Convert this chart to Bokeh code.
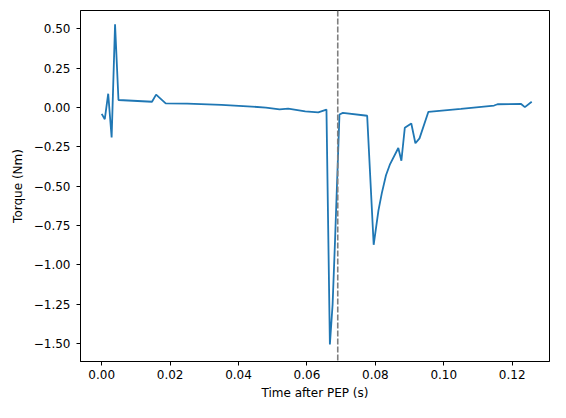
from bokeh.plotting import figure
from bokeh.models import Range1d, FixedTicker, CustomJSTickFormatter, Span
from bokeh.embed import file_html
from bokeh.resources import INLINE

# Data
time_s = [0.0, 0.0009, 0.0019, 0.0029, 0.0039, 0.0049, 0.0147, 0.0159, 0.0187,
          0.025, 0.035, 0.0426, 0.048, 0.052, 0.0545, 0.0595, 0.0633, 0.0657,
          0.0667, 0.0675, 0.0682, 0.0695, 0.0705, 0.0776, 0.0795, 0.0809,
          0.0819, 0.0831, 0.0843, 0.0867, 0.0876, 0.0886, 0.0905, 0.0917,
          0.0929, 0.0955, 0.105, 0.1147, 0.1157, 0.1226, 0.1237, 0.1257]
torque_nm = [-0.040, -0.074, 0.088, -0.190, 0.529, 0.048, 0.037, 0.082, 0.027,
             0.025, 0.017, 0.008, 0.000, -0.012, -0.007, -0.024, -0.030, -0.013,
             -1.506, -1.25, -0.85, -0.044, -0.034, -0.052, -0.872, -0.653,
             -0.542, -0.430, -0.359, -0.257, -0.338, -0.129, -0.101, -0.227,
             -0.196, -0.027, -0.008, 0.013, 0.021, 0.023, 0.003, 0.037]
marker_time = 0.069
x_ticks = [0.0, 0.02, 0.04, 0.06, 0.08, 0.10, 0.12]
y_ticks = [-1.5, -1.25, -1.0, -0.75, -0.5, -0.25, 0.0, 0.25, 0.5]
x_label = "Time after PEP (s)"
y_label = "Torque (Nm)"

FONT = "DejaVu Sans"

p = figure(width=550, height=402, output_backend="svg", toolbar_location=None,
           x_range=Range1d(-0.0062, 0.1309), y_range=Range1d(-1.614, 0.617),
           min_border_left=80, min_border_right=1, min_border_top=10,
           min_border_bottom=10)
p.background_fill_color = "white"
p.border_fill_color = "white"
p.outline_line_color = "black"
p.outline_line_width = 1
p.xgrid.visible = False
p.ygrid.visible = False

p.line(time_s, torque_nm, line_color="#1f77b4", line_width=1.8)
p.add_layout(Span(location=marker_time, dimension="height",
                  line_color="#7f7f7f", line_width=1.6, line_dash="6 2"))

for ax, ticks in ((p.xaxis[0], x_ticks), (p.yaxis[0], y_ticks)):
    ax.ticker = FixedTicker(ticks=ticks)
    ax.formatter = CustomJSTickFormatter(
        code="return tick.toFixed(2).replace('-', '\u2212');")
    ax.minor_tick_line_color = None
    ax.major_tick_in = 0
    ax.major_tick_out = 4
    ax.major_tick_line_color = "black"
    ax.axis_line_color = "black"
    ax.major_label_text_font = FONT
    ax.major_label_text_font_size = "12px"
    ax.major_label_text_color = "black"
    ax.axis_label_text_font = FONT
    ax.axis_label_text_font_size = "12px"
    ax.axis_label_text_font_style = "normal"
    ax.axis_label_text_color = "black"

p.xaxis.axis_label = x_label
p.yaxis.axis_label = y_label
p.xaxis.major_label_standoff = 4
p.xaxis.axis_label_standoff = 4
p.yaxis.major_label_standoff = 6
p.yaxis.axis_label_standoff = 6

open("out.html", "w").write(file_html(p, INLINE))
